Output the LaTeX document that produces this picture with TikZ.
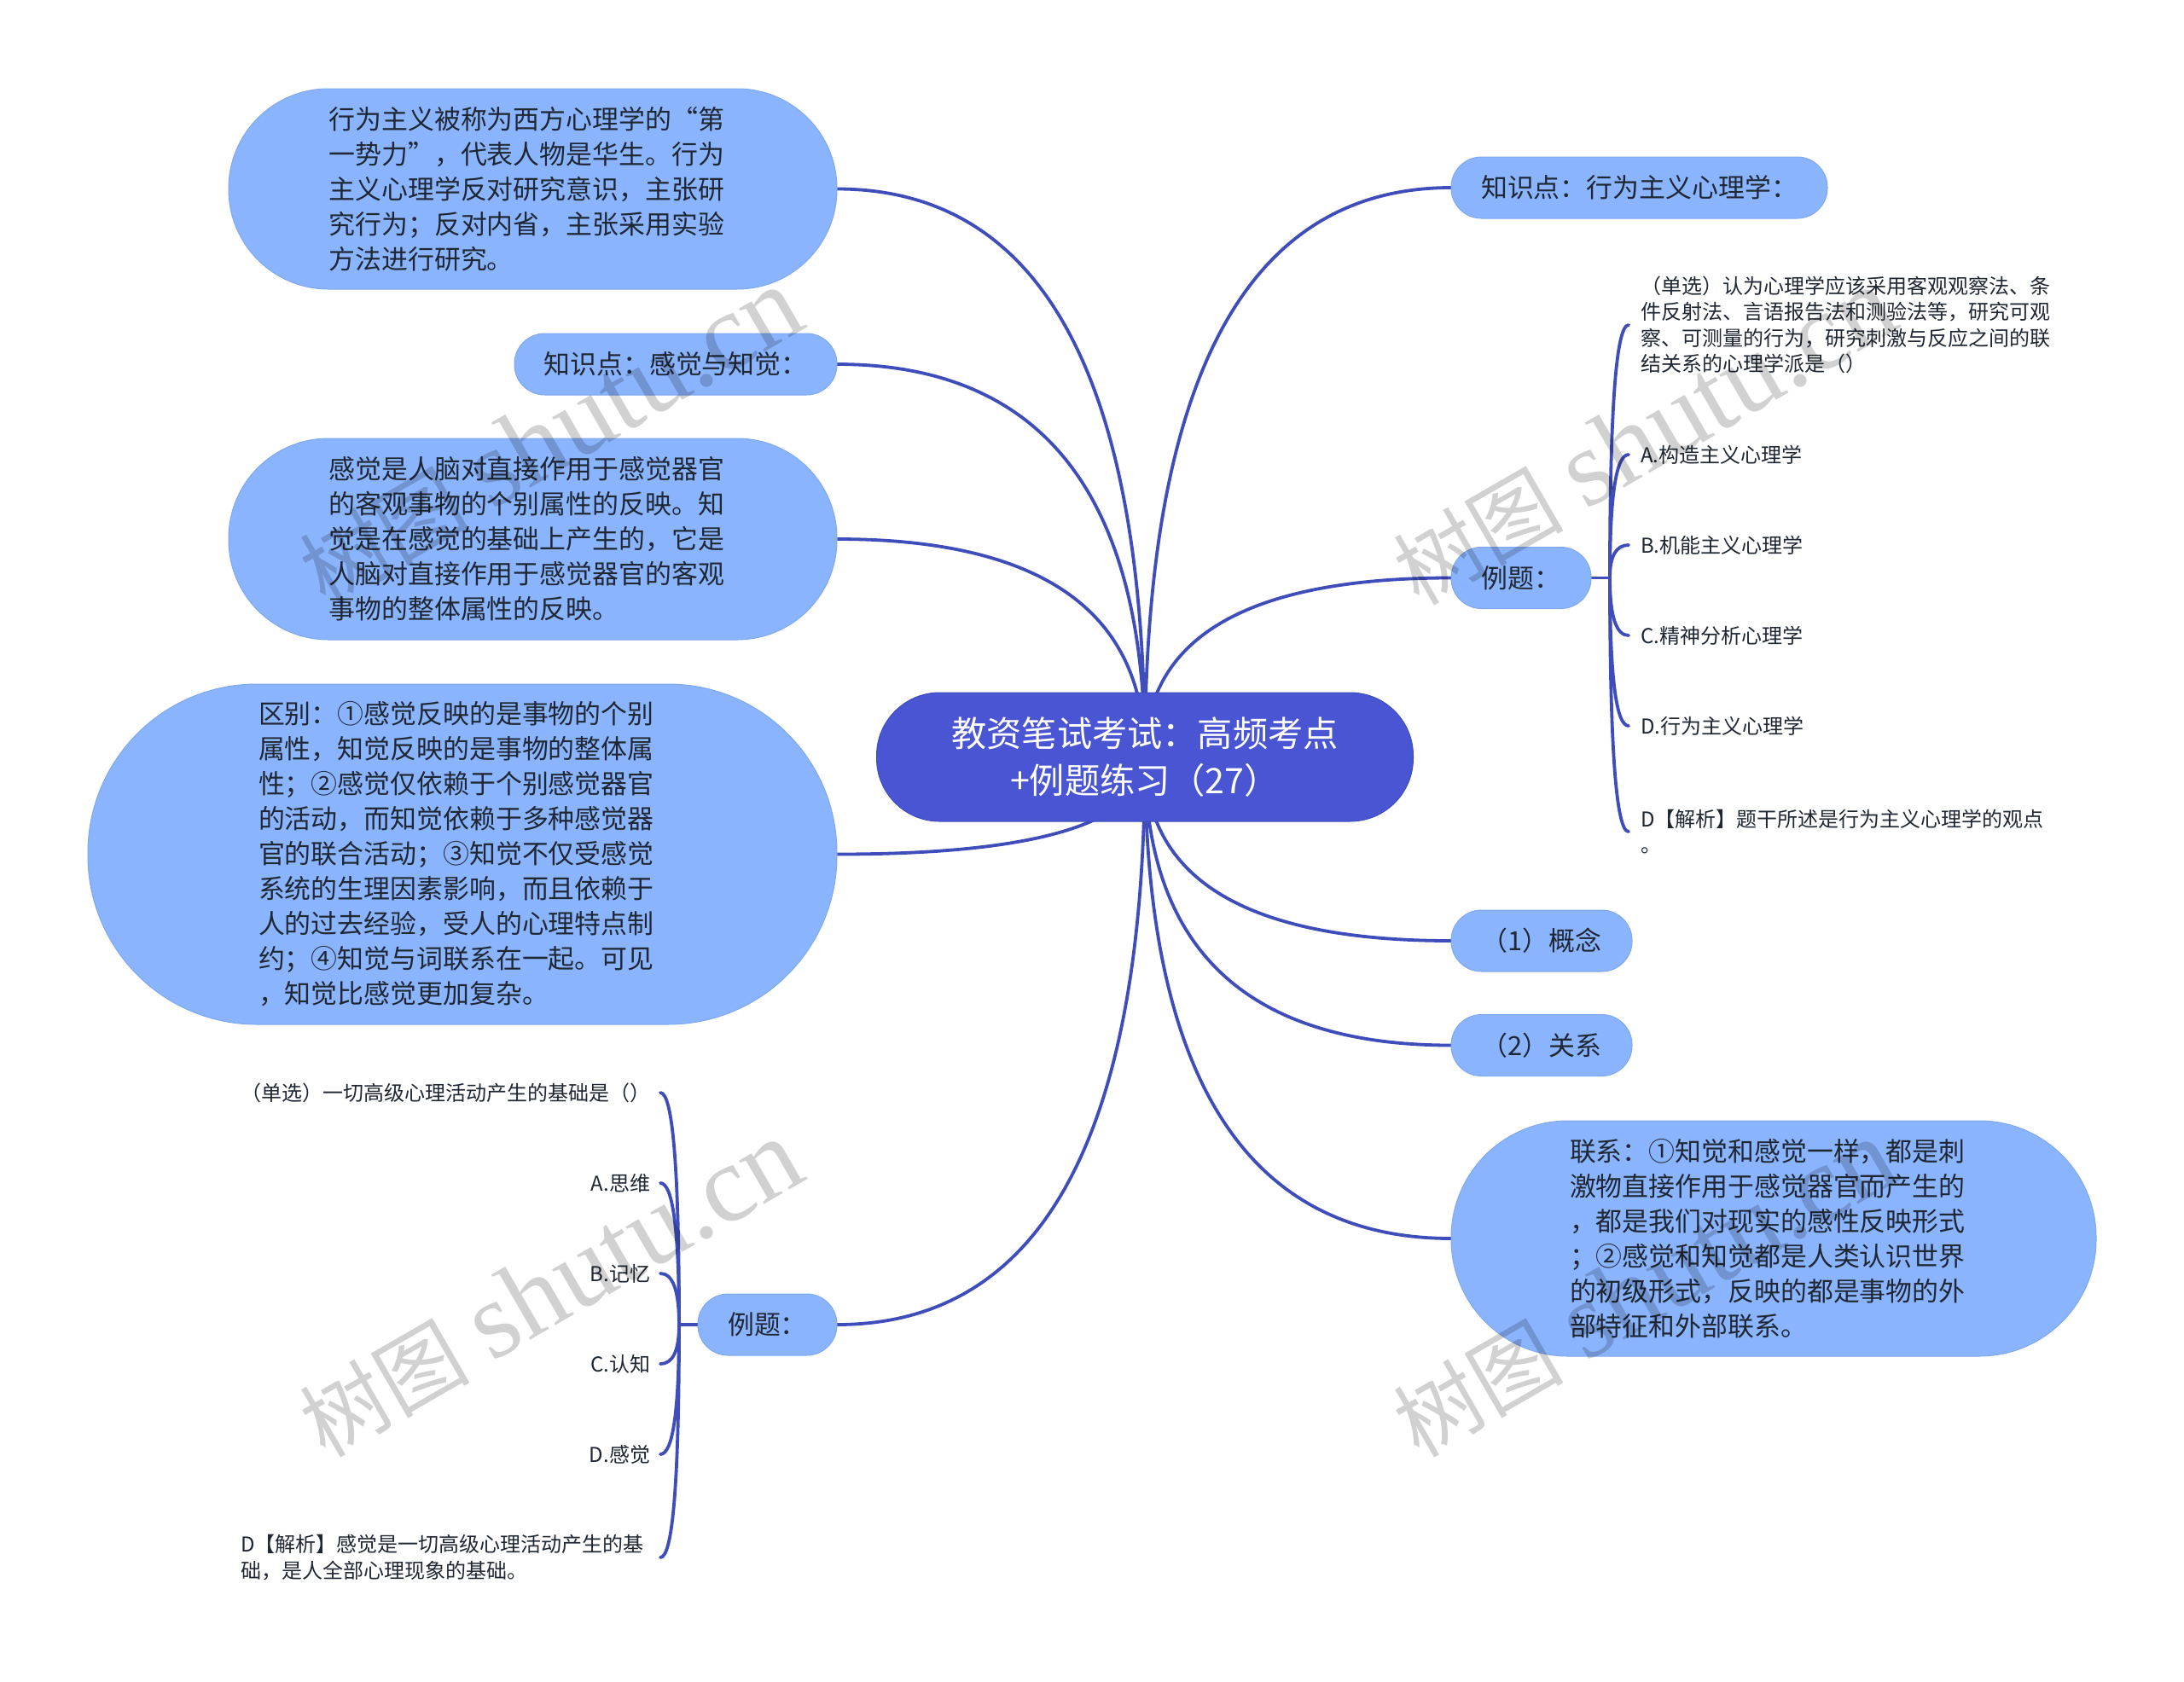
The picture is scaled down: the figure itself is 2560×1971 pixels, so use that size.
\documentclass[tikz,border=0pt]{standalone}
\usepackage{fontspec}
\setmainfont{Noto Sans CJK SC}
\newfontfamily\wmserif{Liberation Serif}
\usetikzlibrary{calc,backgrounds}
\definecolor{linecol}{HTML}{3F4DBB}
\definecolor{rootfill}{HTML}{4A55D4}
\definecolor{topicfill}{HTML}{8AB4FE}
\definecolor{topicline}{HTML}{7FA8F0}
\definecolor{inkcol}{HTML}{1F2733}
\tikzset{
  rootbox/.style={draw=linecol,line width=1pt,fill=rootfill,text=white,rounded corners=74pt,
    minimum width=629pt,minimum height=151pt,inner sep=0pt,outer sep=0pt,align=center,
    font=\fontsize{41.2}{55}\selectfont},
  pill/.style={draw=topicline,line width=1pt,fill=topicfill,text=inkcol,inner sep=0pt,outer sep=0pt,
    font=\fontsize{30.9}{41}\selectfont},
  block/.style={pill,text width=478pt,align=left},
  single/.style={pill,align=center,minimum height=72pt,rounded corners=35.5pt},
  rightleaf/.style={anchor=west,text=inkcol,inner ysep=0pt,inner xsep=14pt,outer sep=0pt,align=left,
    font=\fontsize{24}{30.4}\selectfont},
  leftleaf/.style={anchor=east,text=inkcol,inner ysep=0pt,inner xsep=12pt,outer sep=0pt,align=left,
    font=\fontsize{24}{30.4}\selectfont},
  conn/.style={draw=linecol,line width=3.8pt,line cap=round},
  wm/.style={text=black,text opacity=.18,rotate=30,inner sep=0pt}
}
\newcommand\linkcurve[2]{%
  \coordinate (k) at (#1 -| #2);
  \draw[conn] (#1) .. controls ($(#1)!.667!(k)$) and ($(#2)!.667!(k)$) .. (#2);
}
\newcommand\wmtext{{\fontsize{100}{125}\selectfont 树图}\hspace{26pt}{\wmserif\fontsize{128}{125}\selectfont shutu.cn}}
\begin{document}
\begin{tikzpicture}[x=1pt,y=-1pt]
\useasboundingbox (0,-1) rectangle (2560,1970);

\node[rootbox] (root) at (1342,886.5) {教资笔试考试：高频考点\\+例题练习（27）};

\node[block,minimum width=713pt,minimum height=235pt,rounded corners=117pt] (n1) at (624.5,220.5) {行为主义被称为西方心理学的“第\\一势力”，代表人物是华生。行为\\主义心理学反对研究意识，主张研\\究行为；反对内省，主张采用实验\\方法进行研究。};
\node[single,minimum width=378pt] (n2) at (792,426) {知识点：感觉与知觉：};
\node[block,minimum width=713pt,minimum height=236pt,rounded corners=117pt] (n3) at (624.5,631) {感觉是人脑对直接作用于感觉器官\\的客观事物的个别属性的反映。知\\觉是在感觉的基础上产生的，它是\\人脑对直接作用于感觉器官的客观\\事物的整体属性的反映。};
\node[block,minimum width=878pt,minimum height=399pt,rounded corners=198pt] (n4) at (542,1000.5) {区别：①感觉反映的是事物的个别\\属性，知觉反映的是事物的整体属\\性；②感觉仅依赖于个别感觉器官\\的活动，而知觉依赖于多种感觉器\\官的联合活动；③知觉不仅受感觉\\系统的生理因素影响，而且依赖于\\人的过去经验，受人的心理特点制\\约；④知觉与词联系在一起。可见\\，知觉比感觉更加复杂。};
\node[single,minimum width=163pt] (n5) at (899.5,1552) {例题：};

\node[single,minimum width=441pt] (r1) at (1921.5,219) {知识点：行为主义心理学：};
\node[single,minimum width=164pt] (r2) at (1783,676.5) {例题：};
\node[single,minimum width=212pt] (r3) at (1807,1102) {（1）概念};
\node[single,minimum width=212pt] (r4) at (1807,1224.5) {（2）关系};
\node[block,minimum width=756pt,minimum height=276pt,rounded corners=137pt] (r5) at (2079,1451) {联系：①知觉和感觉一样，都是刺\\激物直接作用于感觉器官而产生的\\，都是我们对现实的感性反映形式\\；②感觉和知觉都是人类认识世界\\的初级形式，反映的都是事物的外\\部特征和外部联系。};

\coordinate (hubr) at (1887,676.5);
\coordinate (hubl) at (796,1552);

\node[rightleaf] (ra0) at (1909,380) {（单选）认为心理学应该采用客观观察法、条\\件反射法、言语报告法和测验法等，研究可观\\察、可测量的行为，研究刺激与反应之间的联\\结关系的心理学派是（）};
\node[rightleaf] (ra1) at (1909,532) {A.构造主义心理学};
\node[rightleaf] (ra2) at (1909,638) {B.机能主义心理学};
\node[rightleaf] (ra3) at (1909,744) {C.精神分析心理学};
\node[rightleaf] (ra4) at (1909,850) {D.行为主义心理学};
\node[rightleaf] (ra5) at (1909,974) {D【解析】题干所述是行为主义心理学的观点\\。};

\node[leftleaf] (la0) at (774,1280) {（单选）一切高级心理活动产生的基础是（）};
\node[leftleaf] (la1) at (774,1386) {A.思维};
\node[leftleaf] (la2) at (774,1492) {B.记忆};
\node[leftleaf] (la3) at (774,1598) {C.认知};
\node[leftleaf] (la4) at (774,1704) {D.感觉};
\node[leftleaf,text width=480pt] (la5) at (774,1825) {D【解析】感觉是一切高级心理活动产生的基\\础，是人全部心理现象的基础。};

\begin{pgfonlayer}{background}
  \fill[white] (0,-1) rectangle (2560,1970);
  \linkcurve{n1.east}{root.center}
  \linkcurve{n2.east}{root.center}
  \linkcurve{n3.east}{root.center}
  \linkcurve{n4.east}{root.center}
  \linkcurve{n5.east}{root.center}
  \linkcurve{r1.west}{root.center}
  \linkcurve{r2.west}{root.center}
  \linkcurve{r3.west}{root.center}
  \linkcurve{r4.west}{root.center}
  \linkcurve{r5.west}{root.center}
  \draw[conn] (r2.east) -- (hubr);
  \draw[conn] (n5.west) -- (hubl);
  \linkcurve{ra0.west}{hubr}
  \linkcurve{ra1.west}{hubr}
  \linkcurve{ra2.west}{hubr}
  \linkcurve{ra3.west}{hubr}
  \linkcurve{ra4.west}{hubr}
  \linkcurve{ra5.west}{hubr}
  \linkcurve{la0.east}{hubl}
  \linkcurve{la1.east}{hubl}
  \linkcurve{la2.east}{hubl}
  \linkcurve{la3.east}{hubl}
  \linkcurve{la4.east}{hubl}
  \linkcurve{la5.east}{hubl}
\end{pgfonlayer}

\node[wm] (w1) at (645,511) {\wmtext};
\node[wm] (w2) at (1927,511) {\wmtext};
\node[wm] (w3) at (645,1510) {\wmtext};
\node[wm] (w4) at (1927,1510) {\wmtext};
\end{tikzpicture}
\end{document}
